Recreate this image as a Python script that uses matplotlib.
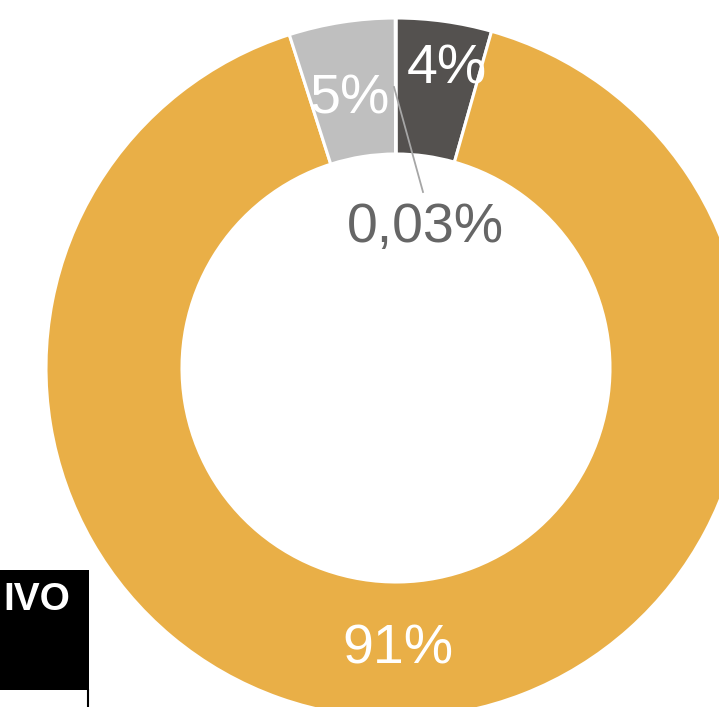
import matplotlib
matplotlib.use("Agg")
import matplotlib.pyplot as plt
import matplotlib.patches as patches

plt.rcParams['font.family'] = ['Liberation Sans', 'DejaVu Sans']

# slice shares in %, clockwise from 12 o'clock
shares = [4.4, 90.67, 4.9, 0.03]
labels = ["4%", "91%", "5%", "0,03%"]
colors = ["#54514F", "#E9AF47", "#BFBFBF", "#A6A6A6"]
label_colors = ["white", "white", "white", "#666666"]

W, H = 719, 707
fig = plt.figure(figsize=(W / 100, H / 100), dpi=100)
ax = fig.add_axes([0, 0, 1, 1])

cx, cy = 396, H - 368
r_out, r_in = 350, 214

wedges, _ = ax.pie(shares, colors=colors, startangle=90, counterclock=False,
                   center=(cx, cy), radius=r_out, frame=True,
                   wedgeprops=dict(width=r_out - r_in, edgecolor='white', linewidth=2.2))
ax.set_xlim(0, W)
ax.set_ylim(0, H)
ax.set_aspect('equal')
ax.axis('off')

# label positions (pixel coords, y down)
pos = [(447, 70), (398, 650), (350, 100), (425, 228)]
for (x, y), txt, c in zip(pos, labels, label_colors):
    ax.text(x, H - y, txt, ha='center', va='center', fontsize=40, color=c)

# leader line for the tiny slice
ax.plot([394, 423], [H - 87, H - 192], color='#A6A6A6', lw=1.3)

# cropped black box bottom-left
ax.add_patch(patches.Rectangle((0, H - 690), 89, 120, facecolor='black',
                               edgecolor='none', clip_on=False))
ax.plot([88, 88], [0, H - 690], color='black', lw=1.5)
ax.text(3, H - 600, "IVO", ha='left', va='center', fontsize=28,
        fontweight='bold', color='white')

fig.savefig("out.png", dpi=100)
